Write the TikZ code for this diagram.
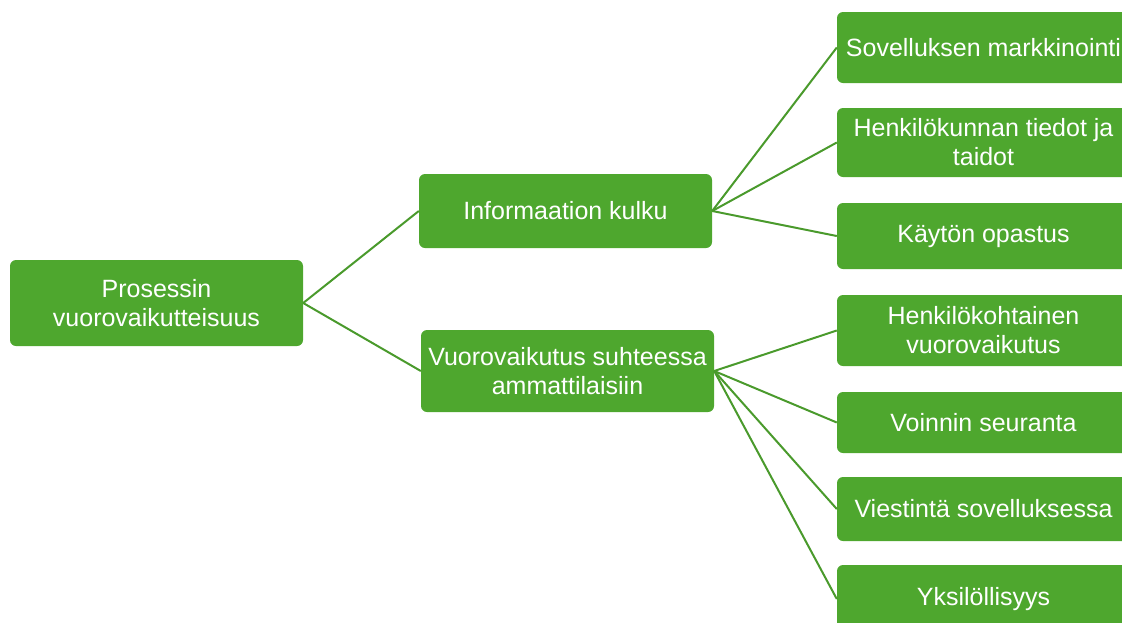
\documentclass[tikz,border=0pt]{standalone}
\usepackage{fontspec}
\setmainfont{Liberation Sans}
\definecolor{leafgreen}{HTML}{4EA72E}
\definecolor{linkgreen}{HTML}{4A9A2C}
\tikzset{
    box/.style={rectangle, rounded corners=6pt, fill=leafgreen, text=white,
        minimum width=293pt, align=center, inner sep=2pt,
        font=\fontsize{25}{29}\selectfont},
    link/.style={draw=linkgreen, line width=2pt}
}
\begin{document}
\begin{tikzpicture}[x=1pt, y=-1pt]
    % Rajaus: kuvan koko ja leikkaus oikeasta reunasta
    \useasboundingbox (0,0) rectangle (1122,622);
    \clip (0,0) rectangle (1122,622);

    % Juuri
    \node[box, minimum height=86pt] (prosessi) at (156.5,303) {Prosessin\\vuorovaikutteisuus};

    % Toinen taso
    \node[box, minimum height=74pt] (info) at (565.5,211) {Informaation kulku};
    \node[box, minimum height=82pt] (vuoro) at (567.5,371) {Vuorovaikutus suhteessa\\ammattilaisiin};

    % Kolmas taso (oikea reuna leikkautuu)
    \node[box, minimum height=71pt] (markkinointi) at (983.5,47.5) {Sovelluksen markkinointi};
    \node[box, minimum height=69pt] (henkilokunta) at (983.5,142.5) {Henkilökunnan tiedot ja\\taidot};
    \node[box, minimum height=66pt] (opastus) at (983.5,236) {Käytön opastus};
    \node[box, minimum height=71pt] (henkilokoht) at (983.5,330.5) {Henkilökohtainen\\vuorovaikutus};
    \node[box, minimum height=61pt] (seuranta) at (983.5,422.5) {Voinnin seuranta};
    \node[box, minimum height=64pt] (viestinta) at (983.5,509) {Viestintä sovelluksessa};
    \node[box, minimum height=68pt] (yksilo) at (983.5,599) {Yksilöllisyys};

    % Yhteydet
    \draw[link] (prosessi.east) -- (info.west);
    \draw[link] (prosessi.east) -- (vuoro.west);
    \foreach \leaf in {markkinointi, henkilokunta, opastus}
        \draw[link] (info.east) -- (\leaf.west);
    \foreach \leaf in {henkilokoht, seuranta, viestinta, yksilo}
        \draw[link] (vuoro.east) -- (\leaf.west);
\end{tikzpicture}
\end{document}
